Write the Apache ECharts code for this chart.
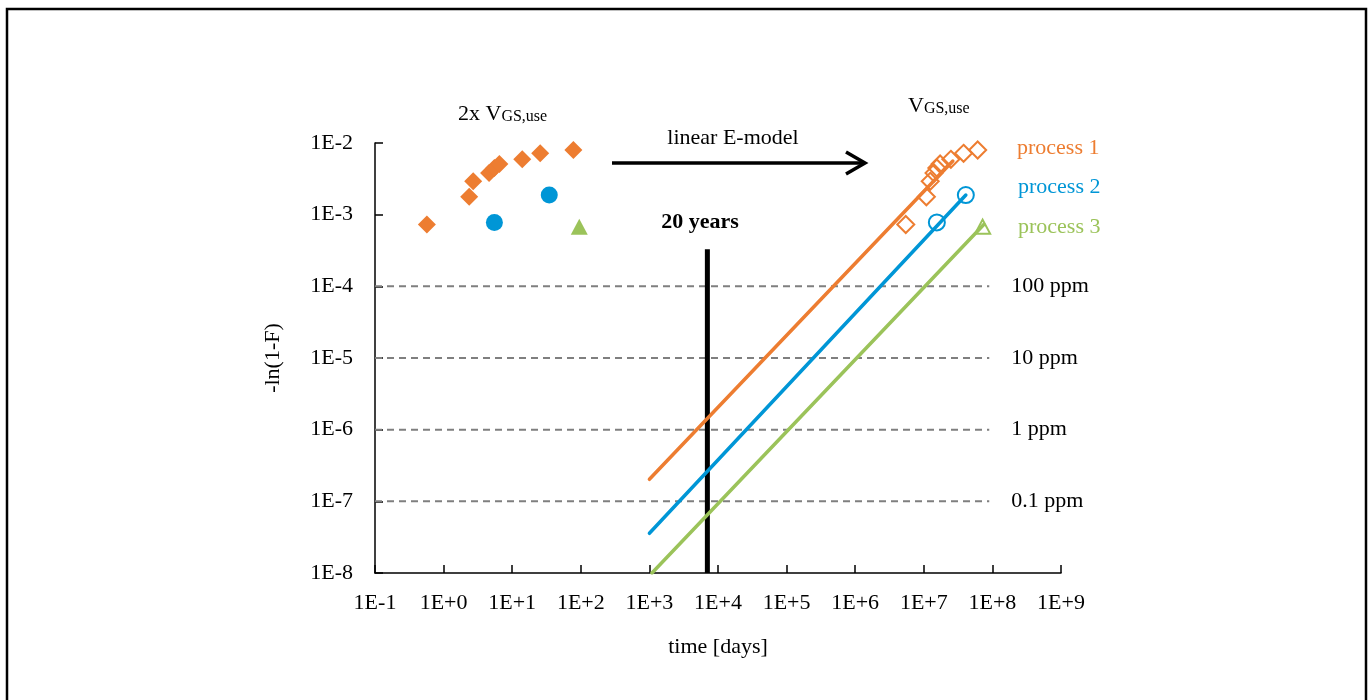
<!DOCTYPE html>
<html>
<head>
<meta charset="utf-8">
<script src="https://cdn.jsdelivr.net/npm/echarts@6/dist/echarts.min.js"></script>
<style>
html,body{margin:0;padding:0;background:#fff;}
#chart{width:1371px;height:700px;}
</style>
</head>
<body>
<div id="chart"></div>
<script>
// ---- data ----
const xTickLabels = ['1E-1','1E+0','1E+1','1E+2','1E+3','1E+4','1E+5','1E+6','1E+7','1E+8','1E+9'];
const yTickLabels = ['1E-8','1E-7','1E-6','1E-5','1E-4','1E-3','1E-2'];

// stress data (2x VGS,use), filled markers
const p1Stress = [[0.57,7.3e-4],[2.36,1.78e-3],[2.7,2.92e-3],[4.6,3.81e-3],[5.5,4.48e-3],[6.5,5.09e-3],[14,5.92e-3],[25.6,7.18e-3],[78,7.98e-3]];
const p2Stress = [[5.5,7.8e-4],[34.7,1.88e-3]];
const p3Stress = [[95,6.8e-4]];

// extrapolated to VGS,use, open markers
const p1Use = [[5.46e6,7.3e-4],[1.09e7,1.78e-3],[1.24e7,2.92e-3],[1.41e7,3.81e-3],[1.55e7,4.48e-3],[1.73e7,5.09e-3],[2.48e7,5.92e-3],[3.8e7,7.18e-3],[6.1e7,7.98e-3]];
const p2Use = [[1.55e7,7.8e-4],[4.1e7,1.88e-3]];
const p3Use = [[7.2e7,6.8e-4]];

// fitted lines
const p1Line = [[1e3,2.03e-7],[2.65e7,5.6e-3]];
const p2Line = [[1e3,3.58e-8],[4.1e7,1.88e-3]];
const p3Line = [[1.09e3,1e-8],[7.5e7,7.3e-4]];

// ppm reference levels
const ppmLevels = [1e-4,1e-5,1e-6,1e-7];
const ppmLabels = ['100 ppm','10 ppm','1 ppm','0.1 ppm'];
const ppmXRange = [0.1, 9e7];

// 20 years
const twentyYears = [[7000,1e-8],[7000,3.3e-4]];

const processNames = ['process 1','process 2','process 3'];

// ---- styling ----
const C1 = '#ED7D31', C2 = '#0096D6', C3 = '#9BC35A';
const FONT = '"Liberation Serif","Times New Roman",serif';
const FS = 22;

function expOf(v){ return Math.round(Math.log10(v)); }

const series = [];

ppmLevels.forEach((lv,i)=>{
  series.push({
    type:'line', silent:true, symbol:'none', z:1,
    data: ppmXRange.map(x=>[x,lv]),
    lineStyle:{color:'#7f7f7f', width:2, type:[7,5]},
    endLabel:{show:true, formatter: ppmLabels[i], color:'#000', fontFamily:FONT, fontSize:FS, distance:22}
  });
});

series.push({type:'line', silent:true, symbol:'none', z:2, data: twentyYears,
  lineStyle:{color:'#000', width:5}});

[[p1Line,C1],[p2Line,C2],[p3Line,C3]].forEach(([d,c])=>{
  series.push({type:'line', silent:true, symbol:'none', z:4, data:d,
    lineStyle:{color:c, width:3.5, cap:'round'}});
});

series.push({type:'scatter', z:3, data:p1Stress, symbol:'diamond', symbolSize:18, itemStyle:{color:C1, opacity:1}});
series.push({type:'scatter', z:3, data:p2Stress, symbol:'circle', symbolSize:17, itemStyle:{color:C2, opacity:1}});
series.push({type:'scatter', z:3, data:p3Stress, symbol:'triangle', symbolSize:[17,16], itemStyle:{color:C3, opacity:1}});

series.push({type:'scatter', z:3, data:p1Use, symbol:'diamond', symbolSize:17, itemStyle:{color:'rgba(255,255,255,0)', borderColor:C1, borderWidth:2, opacity:1}});
series.push({type:'scatter', z:3, data:p2Use, symbol:'circle', symbolSize:16, itemStyle:{color:'rgba(255,255,255,0)', borderColor:C2, borderWidth:2, opacity:1}});
series.push({type:'scatter', z:3, data:p3Use, symbol:'triangle', symbolSize:[15,14], itemStyle:{color:'rgba(255,255,255,0)', borderColor:C3, borderWidth:2, opacity:1}});

const axisCommon = {
  axisLine:{show:true, lineStyle:{color:'#000', width:1.5}},
  axisTick:{show:true, inside:true, length:8, lineStyle:{color:'#000', width:1.5}},
  splitLine:{show:false},
  minorTick:{show:false}
};

const txt = (text, x, y, color) => ({
  type:'text', x, y,
  style:{text, fill:color||'#000', font: FS+'px '+FONT, textAlign:'left', textVerticalAlign:'middle'}
});

const option = {
  backgroundColor:'#fff',
  animation:false,
  grid:{left:375, right:310, top:143, bottom:127},
  xAxis: Object.assign({
    type:'log', logBase:10, min:0.1, max:1e9, interval:1,
    name:'time [days]', nameLocation:'middle', nameGap:63,
    nameTextStyle:{color:'#000', fontFamily:FONT, fontSize:FS},
    axisLabel:{color:'#000', fontFamily:FONT, fontSize:FS, margin:19,
      formatter: v => xTickLabels[expOf(v)+1]}
  }, axisCommon),
  yAxis: Object.assign({
    type:'log', logBase:10, min:1e-8, max:1e-2, interval:1,
    name:'-ln(1-F)', nameLocation:'middle', nameGap:91, nameRotate:90,
    nameTextStyle:{color:'#000', fontFamily:FONT, fontSize:FS},
    axisLabel:{color:'#000', fontFamily:FONT, fontSize:FS, margin:22,
      formatter: v => yTickLabels[expOf(v)+8]}
  }, axisCommon),
  series,
  graphic:[
    {type:'rect', shape:{x:7, y:9, width:1359, height:720}, style:{fill:'none', stroke:'#000', lineWidth:2.5}, z:-1},
    {type:'text', x:458, y:112, style:{
      text:'{a|2x V}{s|GS,use}', font: FS+'px '+FONT, fill:'#000', textVerticalAlign:'middle',
      rich:{a:{fontFamily:FONT, fontSize:FS, fill:'#000', lineHeight:26, verticalAlign:'bottom'},
            s:{fontFamily:FONT, fontSize:16, fill:'#000', lineHeight:18, verticalAlign:'bottom'}}}},
    {type:'text', x:908, y:104, style:{
      text:'{a|V}{s|GS,use}', font: FS+'px '+FONT, fill:'#000', textVerticalAlign:'middle',
      rich:{a:{fontFamily:FONT, fontSize:FS, fill:'#000', lineHeight:26, verticalAlign:'bottom'},
            s:{fontFamily:FONT, fontSize:16, fill:'#000', lineHeight:18, verticalAlign:'bottom'}}}},
    {type:'text', x:733, y:138, style:{text:'linear E-model', fill:'#000', font:FS+'px '+FONT, textAlign:'center', textVerticalAlign:'middle'}},
    {type:'line', shape:{x1:612, y1:163, x2:864, y2:163}, style:{stroke:'#000', lineWidth:3.5}},
    {type:'polyline', shape:{points:[[846,152],[865,163],[846,174]]}, style:{stroke:'#000', lineWidth:3.5, fill:'none'}},
    {type:'text', x:700, y:222, style:{text:'20 years', fill:'#000', font:'bold '+FS+'px '+FONT, textAlign:'center', textVerticalAlign:'middle'}},
    txt(processNames[0], 1017, 148, C1),
    txt(processNames[1], 1018, 187, C2),
    txt(processNames[2], 1018, 227, C3)
  ]
};

const chart = echarts.init(document.getElementById('chart'), null, {renderer:'canvas'});
chart.setOption(option);
</script>
</body>
</html>
